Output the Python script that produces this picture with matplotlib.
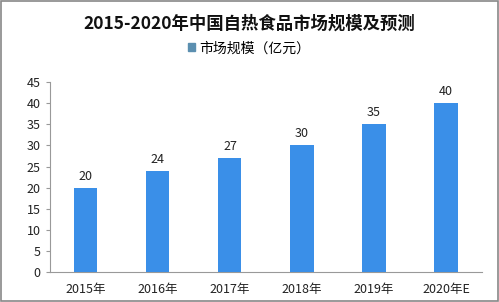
import matplotlib
matplotlib.use("Agg")
import matplotlib.pyplot as plt
from matplotlib.patches import Rectangle

plt.rcParams['font.family'] = ['Noto Sans CJK SC', 'DejaVu Sans']

categories = ["2015年", "2016年", "2017年", "2018年", "2019年", "2020年E"]
values = [20, 24, 27, 30, 35, 40]
yticks = [0, 5, 10, 15, 20, 25, 30, 35, 40, 45]
title = "2015-2020年中国自热食品市场规模及预测"
series_name = "市场规模（亿元）"
bar_color = "#3A8FE8"

fig = plt.figure(figsize=(4.99, 3.02), dpi=100)
fig.patch.set_facecolor("white")
ax = fig.add_axes([0.10, 0.099, 0.866, 0.629])

x = list(range(len(categories)))
bars = ax.bar(x, values, width=0.32, color=bar_color, label=series_name, zorder=3)
for xi, v in zip(x, values):
    ax.text(xi, v + 1.2, str(v), ha="center", va="bottom", fontsize=9, color="#222222")

ax.set_xlim(-0.5, 5.5)
ax.set_ylim(0, 45)
ax.set_yticks(yticks)
ax.set_xticks(x)
ax.set_xticklabels(categories, fontsize=9, color="#222222")
ax.tick_params(axis="y", labelsize=9, colors="#222222", length=3, color="#999999")
ax.tick_params(axis="x", length=0, pad=8)
for s in ["top", "right"]:
    ax.spines[s].set_visible(False)
for s in ["left", "bottom"]:
    ax.spines[s].set_color("#999999")
    ax.spines[s].set_linewidth(0.8)

fig.text(0.5, 0.922, title, ha="center", va="center", fontsize=12.5, fontweight="bold", color="#111111")
leg = fig.legend(handles=[bars], labels=[series_name], loc="center", bbox_to_anchor=(0.5, 0.84),
                 frameon=False, fontsize=10, handlelength=0.5, handleheight=0.5, handletextpad=0.3)
for h in leg.legend_handles:
    h.set_color("#5B8FB0")

fig.patches.append(Rectangle((0.002, 0.003), 0.996, 0.994, transform=fig.transFigure,
                             fill=False, edgecolor="#888888", linewidth=1.2))

fig.savefig("out.png", dpi=100, facecolor="white")
